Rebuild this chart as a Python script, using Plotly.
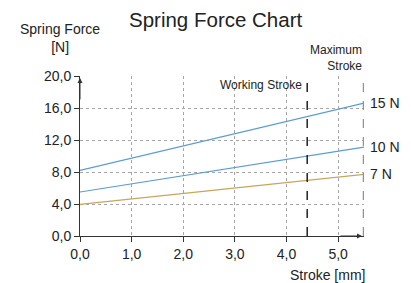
import plotly.graph_objects as go

# Data
stroke = [0.0, 5.5]
force_15 = [8.2, 16.6]
force_10 = [5.5, 11.1]
force_7 = [3.95, 7.7]
series_names = ["15 N", "10 N", "7 N"]
working_stroke = 4.4
max_stroke = 5.5
y_ticks = [0, 4, 8, 12, 16, 20]
x_ticks = [0, 1, 2, 3, 4, 5]

FONT = "Liberation Sans, Arial, sans-serif"
TXT = "#222222"
BLUE = "#5b9bd5"
GOLD = "#c8a55c"

fig = go.Figure()
for ys, col in [(force_15, BLUE), (force_10, BLUE), (force_7, GOLD)]:
    fig.add_trace(go.Scatter(x=stroke, y=ys, mode="lines",
                             line=dict(color=col, width=1.2),
                             showlegend=False, hoverinfo="skip"))

for name, ys in zip(series_names, [force_15, force_10, force_7]):
    fig.add_annotation(x=stroke[-1], y=ys[-1], text=name, showarrow=False,
                       xanchor="left", yanchor="middle", xshift=4,
                       font=dict(family=FONT, size=14, color=TXT))

fig.add_shape(type="line", x0=working_stroke, x1=working_stroke, y0=0, y1=y_ticks[-1],
              line=dict(color="#222222", width=1.5, dash="dash"))
fig.add_shape(type="line", x0=max_stroke, x1=max_stroke, y0=0, y1=y_ticks[-1],
              line=dict(color="#939393", width=2.5, dash="dash"))

fig.add_annotation(x=working_stroke, y=y_ticks[-1], text="Working Stroke", showarrow=False,
                   xanchor="right", yanchor="middle", xshift=-3, yshift=-9,
                   font=dict(family=FONT, size=12, color=TXT))
fig.add_annotation(x=max_stroke, y=y_ticks[-1], text="Maximum<br>Stroke", showarrow=False,
                   xanchor="right", yanchor="bottom", xshift=0, yshift=1, align="right",
                   font=dict(family=FONT, size=12, color=TXT))

fig.add_annotation(x=0, y=y_ticks[-1], ax=0, ay=25, axref="pixel", ayref="pixel",
                   text="", showarrow=True, arrowhead=2, arrowsize=1, arrowwidth=1,
                   arrowcolor="#333333", standoff=2)
fig.add_annotation(x=max_stroke, y=0, ax=-25, ay=0, axref="pixel", ayref="pixel",
                   text="", showarrow=True, arrowhead=2, arrowsize=1, arrowwidth=1,
                   arrowcolor="#333333", standoff=2)

fig.add_annotation(xref="paper", yref="paper", x=0.478, y=1.35, text="Spring Force Chart",
                   showarrow=False, xanchor="center", yanchor="middle",
                   font=dict(family=FONT, size=20.5, color=TXT))
fig.add_annotation(xref="paper", yref="paper", x=-0.07, y=1.12, text="Spring Force<br>[N]",
                   showarrow=False, xanchor="center", yanchor="bottom", align="center",
                   font=dict(family=FONT, size=14, color=TXT))
fig.add_annotation(xref="paper", yref="paper", x=1.01, y=-0.18, text="Stroke [mm]",
                   showarrow=False, xanchor="right", yanchor="top",
                   font=dict(family=FONT, size=14, color=TXT))

grid = dict(showgrid=True, gridcolor="#a6a6a6", griddash="dot", gridwidth=1)
fig.update_layout(
    width=403, height=275,
    margin=dict(l=72, r=47, t=68, b=47, autoexpand=False),
    paper_bgcolor="white", plot_bgcolor="white",
    separators=",.",
    font=dict(family=FONT, size=14, color=TXT),
    xaxis=dict(range=[0, max_stroke], tickvals=x_ticks, tickformat=".1f",
               zeroline=False, showline=True, linecolor="#333333", linewidth=1,
               ticks="outside", ticklen=5, tickcolor="#333333",
               tickfont=dict(family=FONT, size=14, color=TXT), **grid),
    yaxis=dict(range=[0, y_ticks[-1]], tickvals=y_ticks, tickformat=".1f",
               ticksuffix="<span style='font-size:11px;color:rgba(0,0,0,0)'>_</span>",
               zeroline=False, showline=True, linecolor="#333333", linewidth=1,
               ticks="outside", ticklen=5, tickcolor="#333333",
               tickfont=dict(family=FONT, size=14, color=TXT), **grid),
)

fig.write_html("out.html")
